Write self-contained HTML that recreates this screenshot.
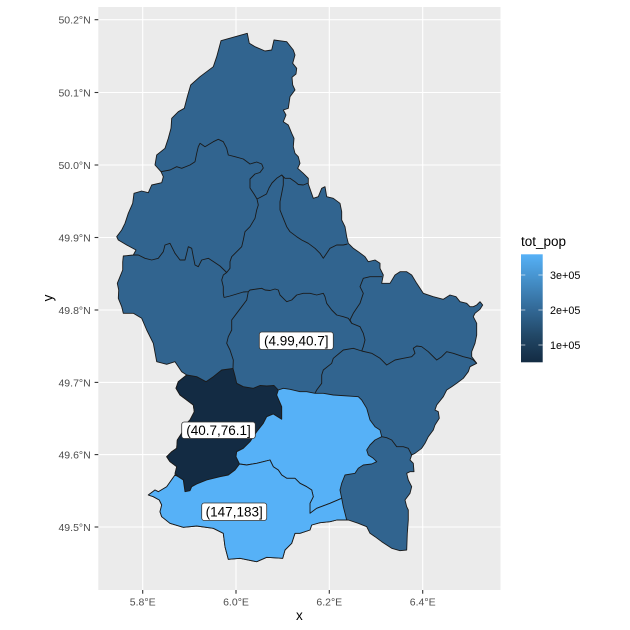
<!DOCTYPE html>
<html><head><meta charset="utf-8"><style>
html,body{margin:0;padding:0;background:#fff;}
svg{display:block;}
text{font-family:"Liberation Sans",Arial,sans-serif;}
</style></head><body>
<svg width="630" height="630" viewBox="0 0 630 630" xmlns="http://www.w3.org/2000/svg">
<defs>
<linearGradient id="cb" x1="0" y1="1" x2="0" y2="0">
<stop offset="0" stop-color="#132B43"/>
<stop offset="0.25" stop-color="#224867"/>
<stop offset="0.5" stop-color="#336A98"/>
<stop offset="0.75" stop-color="#448EC7"/>
<stop offset="1" stop-color="#56B1F7"/>
</linearGradient>
</defs>
<rect x="0" y="0" width="630" height="630" fill="#fff"/>
<rect x="98.3" y="7" width="402.2" height="583" fill="#EBEBEB"/>
<g stroke="#fff" stroke-width="1.1">
<line x1="142.7" y1="7" x2="142.7" y2="590"/>
<line x1="236" y1="7" x2="236" y2="590"/>
<line x1="329.3" y1="7" x2="329.3" y2="590"/>
<line x1="422.7" y1="7" x2="422.7" y2="590"/>
<line x1="98.3" y1="19.7" x2="500.5" y2="19.7"/>
<line x1="98.3" y1="92.5" x2="500.5" y2="92.5"/>
<line x1="98.3" y1="165" x2="500.5" y2="165"/>
<line x1="98.3" y1="237.5" x2="500.5" y2="237.5"/>
<line x1="98.3" y1="310" x2="500.5" y2="310"/>
<line x1="98.3" y1="382.4" x2="500.5" y2="382.4"/>
<line x1="98.3" y1="454.6" x2="500.5" y2="454.6"/>
<line x1="98.3" y1="527" x2="500.5" y2="527"/>
</g>
<g stroke="#1a1a1a" stroke-width="0.9" stroke-linejoin="round" fill="none">
<polygon fill="#31648F" points="221,40.7 247.3,33.3 249.3,43.3 255,46.7 265,51 271.7,50 274,40 286.7,41.7 293.3,50 295,55 292.7,63.3 296.7,68.3 296,74 292,77.3 292.7,85 295,90 290,96.7 288.3,108.3 283.3,110 286,115 283.3,121.7 288.3,125 291.7,133.3 294,138.3 293.3,146.7 295,153.3 298.3,156.7 300,163.3 297.7,168.3 303.3,173.3 308.3,178.3 308.3,184 313.3,198.3 318.3,196.7 321.7,188.3 325,186.7 326.7,196.7 333.3,198.3 340,203.3 341.7,211.7 341.7,220 345,226.7 346.7,236.7 348.3,243.3 353.3,248.3 358.3,251.7 365,256.7 368.3,261.7 375,260 380,263.3 380,268.3 383.3,275 381.7,283.3 390,283.3 395,275 400,271.7 406.7,271.7 411.7,275 416.7,283.3 423.3,293.3 433.3,296.7 443.3,299.3 450,295 456,296.7 460,301.7 466.7,303.3 470,306.7 473.3,306.7 476.7,305 480,301.7 482.7,305 480,309.3 475,313.3 473.3,316.7 476.7,323.3 476.7,335 475,343.3 471.7,351.7 471.7,356.7 476.7,363.3 470,366.7 468.3,371.7 463.3,378.3 456.7,383.3 451.7,386.7 446.7,390 443.3,396.7 436.7,405 435,410 438.3,411.7 439.3,418.3 435,425 433.3,430 428.3,436.7 425,443.3 421.7,448.3 415,453.3 411.7,455 410,460 413.3,463.3 414,471.7 410,471.7 406.7,473.3 408.3,480 411.7,486.7 410,493.3 405,500 406.7,506.7 408.3,510 408.3,520 407.3,533.3 406.7,550 400,550.7 391.7,548.3 381.7,541.7 375,536.7 370,533.3 366.7,526.7 358.3,523.3 348.3,520 346.7,520 336.7,520 330,521.7 320,522.7 311.7,525 310,530 300,533.3 295,533.3 291.7,543.3 285,550 282.7,558.3 266.7,557.3 256.7,561.7 240,558.3 228.3,559.3 225,546.7 223.3,533.3 213.3,528.3 196.7,526 183.3,527.3 170,523.3 161.7,516.7 160,511.7 161.7,505 159.3,500 153.3,496.7 148.3,495 155,490 158.3,491.7 166.7,486.7 175,475 176.7,466.7 170,461.7 166.7,456.7 171.7,451.7 176.7,448.3 177.3,440 181.7,433.3 183.3,426.7 190,420 194.3,411.7 193.3,405 186.7,400 180,395 176,388.3 178.3,381.7 186.7,375 181.7,371.7 175,361.7 166.7,364.3 156.7,361.7 153.3,343.3 146.7,330 141.7,318.3 133.3,313.3 123.3,313.3 121.7,306.7 118.3,298.3 118.7,290 117.3,283.3 120,276.7 122.7,270 122.7,262 123.3,256 133.3,255 136,250 126.7,245 118.3,240 116.7,236.7 121.7,230 125,223.3 128.3,213.3 132.7,203.3 134,193.3 141.7,191 148.3,192.7 151.7,185 161.7,182.7 163.3,176.7 161,171.7 155,165 156.7,155 165,148.3 168.3,138.3 171,128.3 171.7,118.3 178.3,111.7 184.3,108.3 187.3,96.7 190.7,85 200,76.7 213.3,66.7 216.7,56.7"/>
<polygon fill="#132B43" points="186.7,375 196.7,376.7 206,381.7 213.3,376.7 221.7,370 233,368.5 235,376 236.7,383.3 243.3,386.7 253.3,388.3 260,385.5 266.7,386 274,385.5 278.3,390 276.7,395 281.7,406.7 281.7,419.3 273.3,414 266.7,416.7 263.3,423.3 256.7,431.7 250,441.7 243.3,448.3 236.7,451.7 236,456.7 239.5,464 235,470 228.3,475 220,476.7 206.7,480 196.7,484 191.7,486.7 190,490.7 185,491.7 183.3,480 178.3,476.7 175,473.3 176.7,466.7 170,461.7 166.7,456.7 171.7,451.7 176.7,448.3 177.3,440 181.7,433.3 183.3,426.7 190,420 194.3,411.7 193.3,405 186.7,400 180,395 176,388.3 178.3,381.7"/>
<polygon fill="#56B1F7" points="278.3,390 283.3,388.3 290,389.3 300,391.7 306.7,391.7 315,393.3 323.3,393.3 333.3,395 358.3,396.7 361.7,400 366.7,408.3 370,420 375,426.7 380,430 381.7,436.7 375,440 370,445 366.7,450 368.3,455 373.3,458.3 376.7,461.7 371.7,464 363.3,465 358.3,468.3 355,473.3 345,475 341.7,483.3 340,490 341.7,498.3 330,503.3 316.7,508.3 310,513.3 310,503.3 313.3,496.7 311.7,490 306.7,486.7 300,483.3 295,478.3 286.7,478.3 281.7,475 278.3,470 273.3,466.7 270,460 263.3,461.7 256.7,463.3 246.7,465 239.5,464 236,456.7 236.7,451.7 243.3,448.3 250,441.7 256.7,431.7 263.3,423.3 266.7,416.7 273.3,414 281.7,419.3 281.7,406.7 276.7,395"/>
<polygon fill="#56B1F7" points="148.3,495 155,490 158.3,491.7 166.7,486.7 175,475 178.3,476.7 183.3,480 185,491.7 190,490.7 191.7,486.7 196.7,484 206.7,480 220,476.7 228.3,475 235,470 239.5,464 246.7,465 256.7,463.3 263.3,461.7 270,460 273.3,466.7 278.3,470 281.7,475 286.7,478.3 295,478.3 300,483.3 306.7,486.7 311.7,490 313.3,496.7 310,503.3 310,513.3 316.7,508.3 330,503.3 341.7,498.3 343.3,506.7 345,513.3 346.7,520 336.7,520 330,521.7 320,522.7 311.7,525 310,530 300,533.3 295,533.3 291.7,543.3 285,550 282.7,558.3 266.7,557.3 256.7,561.7 240,558.3 228.3,559.3 225,546.7 223.3,533.3 213.3,528.3 196.7,526 183.3,527.3 170,523.3 161.7,516.7 160,511.7 161.7,505 159.3,500 153.3,496.7"/>
<polyline points="161,171.7 170,170 176.7,166.7 181.7,168.3 190,165 195,161.7 196.7,153.3 198.3,146.7 200,143.3 205,146.7 213.3,141.7 218.3,139.3 223.3,141.7 226.7,148.3 228.3,155 235,156.7 243.3,159 250,164 256.7,162 261.7,164 263.3,168 260,172.5 255,174 250,179 250,188 254,194 257,199 260,197.5 266.5,194 269,188 272,183 276.7,178.3 281.7,175 285,178.3 290,178.3 295,181.7 298.3,184.5 303.3,185 308.3,183"/>
<polyline points="257,199 258.3,205 256.7,210 255,218.3 250,226.7 245,231.7 243.3,240 241.7,246.7 236.7,251.7 231.7,256.7 230,261.7 230,268.3 226.7,272.5 223.3,275 221.7,280 223.3,286.7 223.3,293.3 224,297.5"/>
<polyline points="226.7,272.5 220,266 213.3,261.5 208.3,258.3 201.7,260 198.3,266.7 195,265 193.3,256.7 191.7,248.3 188.3,246.7 186.7,253.3 185,260 180,260 175,253.3 170,243.3 165,245 163.3,251.7 158.3,258.3 151.7,260 145,258.3 138.3,255 133.3,255"/>
<polyline points="281.7,175 283.3,177 283.3,185 281.7,193.3 280,201.7 280,210 283.3,218.3 286.7,226.7 290,231.7 296.7,236.7 301.7,240 308.3,243.3 315,248.3 320,253.3 323.3,258.3 326.7,253.3 330,248.3 336.7,245 343.3,245 347.5,244"/>
<polyline points="224,297.5 230,296 236.7,294 243.3,292 248.3,291.7 250,290 256.7,289 261.7,288.3 265,290 270,290.5 275,289 278.3,290 280,295 283.3,298.3 286.7,301.7 291.7,300 296.7,295 303.3,293.3 310,293.3 316.7,295 323.3,293.3 325,296.7 326.7,303.3 331.7,310 336.7,315 343.3,316.7 348.3,318.3 351.7,323.3"/>
<polyline points="248.3,291.7 246.7,300 241.7,306.7 236.7,313.3 231.7,320 231.7,330 228.3,336.7 226.7,343.3 230,350 233.3,360 233,368.5"/>
<polyline points="382,276.7 370,276.7 363.3,278.3 360,286.7 363.3,293.3 360,303.3 353.3,313.3 350,320 351.7,323.3 360,326.7 363.3,333.3 365,340 363.3,346.7 361.7,351"/>
<polyline points="361.7,351 371.7,353.3 380,358.3 386.7,365 395,360 403.3,358.3 411.7,356.7 415,353.3 413.3,348.3 416.7,346 421.7,346.7 428.3,351.7 436.7,360 441.7,356.7 446.7,351.7 453.3,353.3 463.3,356.7 470,358.3 473.3,360 476.7,363.3"/>
<polyline points="361.7,351 353.3,348.3 343.3,350 333.3,358.3 331.7,363.3 323.3,370 321.7,375 321.7,383.3 316.7,390 315,393.3"/>
<polyline points="381.7,436.7 386.7,437.7 391.7,440 396.7,446.7 403.3,446.7 408.3,448.3 411.7,455"/>
</g>
<g font-size="13.5" fill="#000" text-anchor="middle">
<rect x="259.3" y="332" width="74" height="17.5" rx="2.5" fill="#fff" stroke="#333" stroke-width="0.8"/>
<text x="296.3" y="345.5">(4.99,40.7]</text>
<rect x="181.7" y="422" width="73.6" height="16.5" rx="2.5" fill="#fff" stroke="#333" stroke-width="0.8"/>
<text x="218.5" y="435">(40.7,76.1]</text>
<rect x="201.7" y="503" width="65" height="17.5" rx="2.5" fill="#fff" stroke="#333" stroke-width="0.8"/>
<text x="234.2" y="516.5">(147,183]</text>
</g>
<g stroke="#333" stroke-width="1.1">
<line x1="94.6" y1="19.7" x2="98.3" y2="19.7"/>
<line x1="94.6" y1="92.5" x2="98.3" y2="92.5"/>
<line x1="94.6" y1="165" x2="98.3" y2="165"/>
<line x1="94.6" y1="237.5" x2="98.3" y2="237.5"/>
<line x1="94.6" y1="310" x2="98.3" y2="310"/>
<line x1="94.6" y1="382.4" x2="98.3" y2="382.4"/>
<line x1="94.6" y1="454.6" x2="98.3" y2="454.6"/>
<line x1="94.6" y1="527" x2="98.3" y2="527"/>
<line x1="142.7" y1="590" x2="142.7" y2="593.7"/>
<line x1="236" y1="590" x2="236" y2="593.7"/>
<line x1="329.3" y1="590" x2="329.3" y2="593.7"/>
<line x1="422.7" y1="590" x2="422.7" y2="593.7"/>
</g>
<g font-size="10.5" fill="#4D4D4D" text-anchor="end">
<text x="90.7" y="23.6">50.2°N</text>
<text x="90.7" y="96.4">50.1°N</text>
<text x="90.7" y="168.9">50.0°N</text>
<text x="90.7" y="241.4">49.9°N</text>
<text x="90.7" y="313.9">49.8°N</text>
<text x="90.7" y="386.3">49.7°N</text>
<text x="90.7" y="458.5">49.6°N</text>
<text x="90.7" y="530.9">49.5°N</text>
</g>
<g font-size="10.5" fill="#4D4D4D" text-anchor="middle">
<text x="142.7" y="605.3">5.8°E</text>
<text x="236" y="605.3">6.0°E</text>
<text x="329.3" y="605.3">6.2°E</text>
<text x="422.7" y="605.3">6.4°E</text>
</g>
<text x="299.4" y="620" font-size="13.5" text-anchor="middle" fill="#000">x</text>
<text transform="translate(52.5,298) rotate(-90)" font-size="13.5" text-anchor="middle" fill="#000">y</text>
<text x="521" y="246" font-size="13.5" fill="#000">tot_pop</text>
<rect x="521" y="254.3" width="21.7" height="108" fill="url(#cb)"/>
<g stroke="#fff" stroke-opacity="0.6" stroke-width="1">
<line x1="521" y1="275" x2="525.3" y2="275"/><line x1="538.4" y1="275" x2="542.7" y2="275"/>
<line x1="521" y1="310" x2="525.3" y2="310"/><line x1="538.4" y1="310" x2="542.7" y2="310"/>
<line x1="521" y1="345" x2="525.3" y2="345"/><line x1="538.4" y1="345" x2="542.7" y2="345"/>
</g>
<g font-size="10.8" fill="#000">
<text x="550" y="278.8">3e+05</text>
<text x="550" y="313.8">2e+05</text>
<text x="550" y="348.8">1e+05</text>
</g>
</svg>
</body></html>
